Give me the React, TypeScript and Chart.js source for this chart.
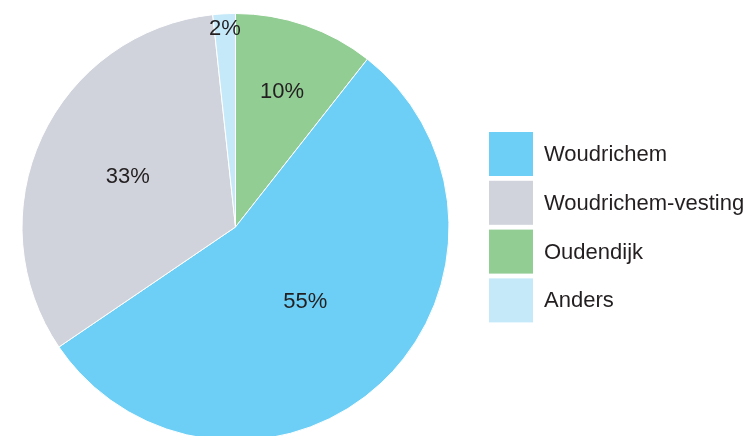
import React, { useEffect, useRef } from "react";
import { Chart, registerables } from "chart.js";

Chart.register(...registerables);

// Slices in drawing order (clockwise from 12 o'clock)
const categories = ["Oudendijk", "Woudrichem", "Woudrichem-vesting", "Anders"];
const shares = [10.6, 54.9, 32.8, 1.7];
const shareLabels = ["10%", "55%", "33%", "2%"];
const sliceColors = ["#92CD94", "#6DCFF6", "#D0D3DC", "#C6E9F9"];
// Order of the legend entries
const legendOrder = ["Woudrichem", "Woudrichem-vesting", "Oudendijk", "Anders"];

const FONT = "'Liberation Sans', Arial, Helvetica, sans-serif";

const sliceLabelPlugin = {
  id: "sliceLabels",
  afterDatasetsDraw(chart: any, _args: any, opts: any) {
    const meta = chart.getDatasetMeta(0);
    const ctx = chart.ctx;
    ctx.save();
    ctx.font = opts.font;
    ctx.fillStyle = opts.color;
    ctx.textAlign = "center";
    ctx.textBaseline = "middle";
    meta.data.forEach((arc: any, i: number) => {
      const p = arc.getProps(["x", "y", "startAngle", "endAngle", "outerRadius"], true);
      const mid = (p.startAngle + p.endAngle) / 2;
      const r = p.outerRadius * opts.radial[i];
      ctx.fillText(shareLabels[i], p.x + Math.cos(mid) * r, p.y + Math.sin(mid) * r);
    });
    ctx.restore();
  },
};

const sideLegendPlugin = {
  id: "sideLegend",
  afterDraw(chart: any, _args: any, opts: any) {
    const ctx = chart.ctx;
    ctx.save();
    legendOrder.forEach((name, k) => {
      const i = categories.indexOf(name);
      const y = opts.top + k * opts.pitch;
      ctx.fillStyle = sliceColors[i];
      ctx.fillRect(opts.left, y, opts.box, opts.box);
      ctx.fillStyle = opts.color;
      ctx.font = opts.font;
      ctx.textAlign = "left";
      ctx.textBaseline = "middle";
      ctx.fillText(name, opts.left + opts.box + opts.textGap, y + opts.box / 2 + 1);
    });
    ctx.restore();
  },
};

export default function App() {
  const canvasRef = useRef<HTMLCanvasElement | null>(null);

  useEffect(() => {
    document.body.style.margin = "0";
    const canvas = canvasRef.current;
    if (!canvas) return;
    const chart = new Chart(canvas, {
      type: "pie",
      data: {
        labels: categories,
        datasets: [
          {
            data: shares,
            backgroundColor: sliceColors,
            borderColor: "#ffffff",
            borderWidth: 1,
          },
        ],
      },
      options: {
        responsive: false,
        animation: false,
        devicePixelRatio: 1,
        events: [],
        rotation: 0,
        layout: { padding: { left: 21, right: 298, top: 13, bottom: 13 } },
        plugins: {
          legend: { display: false },
          tooltip: { enabled: false },
          title: { display: false },
          sliceLabels: {
            font: `22px ${FONT}`,
            color: "#231F20",
            radial: [0.667, 0.479, 0.556, 0.928],
          },
          sideLegend: {
            left: 489,
            top: 132,
            box: 44,
            pitch: 48.8,
            textGap: 11,
            font: `22px ${FONT}`,
            color: "#231F20",
          },
        } as any,
      },
      plugins: [sliceLabelPlugin, sideLegendPlugin],
    });
    return () => chart.destroy();
  }, []);

  return (
    <div style={{ position: "fixed", left: 0, top: 0, width: 748, height: 454 }}>
      <canvas ref={canvasRef} width={748} height={454} style={{ display: "block" }} />
    </div>
  );
}
